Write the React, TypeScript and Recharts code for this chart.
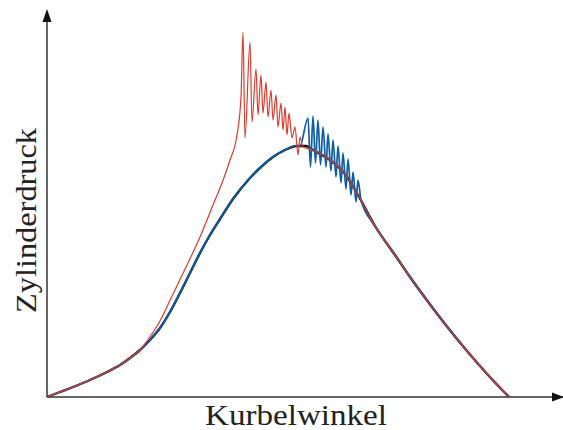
import React from 'react'
import { LineChart, Line, XAxis, YAxis, ReferenceLine } from 'recharts'

// pressure trace, smooth combustion (black)
const baseAngle = [0, 13, 26, 43, 60, 73, 83, 93, 103, 113, 123, 133, 143, 153, 163, 173, 186, 203, 214, 226, 238, 250, 259, 266, 283, 298, 311, 328, 348, 363, 376, 398, 420, 441, 462]
const basePressure = [0, 5, 10, 17, 25, 32, 39, 47, 57, 69, 85, 104, 124, 144, 162, 178, 198, 219, 230, 240, 247, 251, 251, 247, 237, 223, 202, 171, 142, 120, 102, 73, 46, 22, 0]

// knocking cycle (blue)
const knockAngle = [0, 13, 26, 43, 60, 73, 83, 93, 103, 113, 123, 133, 143, 153, 163, 173, 186, 203, 214, 226, 238, 250, 253, 261, 263.5, 266, 268.5, 271, 273.5, 276, 279, 281, 284, 286, 289, 291, 294, 296, 299, 301, 304, 306, 309, 311, 314, 328, 348, 363, 376, 398, 420, 441, 462]
const knockPressure = [0, 5, 10, 17, 25, 32, 39, 47, 57, 69, 85, 104, 124, 144, 162, 178, 198, 219, 230, 240, 247, 251, 251, 279, 230, 281, 234, 277, 232, 270, 230, 263, 226, 257, 220, 251, 214, 244, 208, 238, 202, 225, 195, 217, 197, 171, 142, 120, 102, 73, 46, 22, 0]

// early ignition with heavy knock (red)
const earlyAngle = [0, 13, 26, 43, 60, 73, 83, 93, 100, 113, 126, 140, 153, 166, 175, 183, 190, 194, 196, 198, 203, 205, 209, 211, 214, 216, 219, 221, 224, 226, 229, 231, 234, 236, 238, 240, 242, 245, 248, 251, 253, 256, 266, 283, 298, 311, 328, 348, 363, 376, 398, 420, 441, 462]
const earlyPressure = [0, 5, 10, 17, 25, 32, 39, 47, 56, 76, 103, 132, 160, 192, 214, 237, 262, 300, 365, 259, 355, 275, 328, 282, 322, 284, 315, 280, 307, 277, 302, 270, 294, 267, 290, 262, 284, 259, 270, 242, 260, 250, 247, 237, 223, 202, 171, 142, 120, 102, 73, 46, 22, 0]

const toRows = (xs: number[], ys: number[]) => xs.map((x, i) => ({ x, p: ys[i] }))

const baseData = toRows(baseAngle, basePressure)
const knockData = toRows(knockAngle, knockPressure)
const earlyData = toRows(earlyAngle, earlyPressure)

const labelFont = "'Liberation Serif', 'DejaVu Serif', serif"

export default function App() {
  return (
    <div style={{ position: 'relative', width: 563, height: 430, background: '#fff' }}>
      <style>{'body { margin: 0; }'}</style>
      <LineChart width={563} height={430} margin={{ top: 12, right: 0, bottom: 33, left: 47 }}>
        <XAxis type="number" dataKey="x" domain={[0, 516]} hide />
        <YAxis type="number" dataKey="p" domain={[0, 385]} hide />
        <ReferenceLine x={0} stroke="#333" strokeWidth={1.5} ifOverflow="visible" />
        <ReferenceLine y={0} stroke="#333" strokeWidth={1.5} ifOverflow="visible" />
        <Line data={baseData} dataKey="p" type="monotone" stroke="#111" strokeWidth={2.4} dot={false} isAnimationActive={false} />
        <Line data={knockData} dataKey="p" type="monotone" stroke="#0b5ea6" strokeWidth={1.7} dot={false} isAnimationActive={false} />
        <Line data={earlyData} dataKey="p" type="monotone" stroke="#dd3a2c" strokeWidth={1.2} dot={false} isAnimationActive={false} />
      </LineChart>
      <svg width={563} height={430} style={{ position: 'absolute', left: 0, top: 0, pointerEvents: 'none' }}>
        <polygon points="47,9 42.5,22 51.5,22" fill="#111" />
        <polygon points="564,397 552,392.5 552,401.5" fill="#111" />
        <text x={296} y={425} textAnchor="middle" textLength={182} lengthAdjust="spacingAndGlyphs" style={{ fontFamily: labelFont, fontSize: 30 }} fill="#222">
          Kurbelwinkel
        </text>
        <text
          x={0}
          y={0}
          transform="translate(36,220.5) rotate(-90)"
          textAnchor="middle"
          textLength={185}
          lengthAdjust="spacingAndGlyphs"
          style={{ fontFamily: labelFont, fontSize: 30 }}
          fill="#222"
        >
          Zylinderdruck
        </text>
      </svg>
    </div>
  )
}
